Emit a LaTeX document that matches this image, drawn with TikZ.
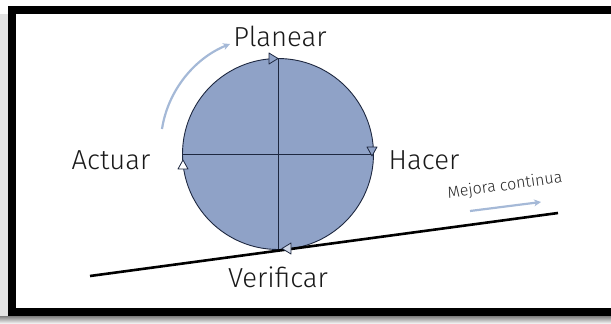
\documentclass[tikz,border=0pt]{standalone}
\usepackage{fontspec}
\setmainfont{Fira Sans Light}
\usetikzlibrary{arrows.meta}
\definecolor{cfill}{RGB}{143,162,199}
\definecolor{cline}{RGB}{30,40,64}
\definecolor{arrowc}{RGB}{165,185,215}
\definecolor{shade}{RGB}{175,175,175}
\tikzset{
  lbl/.style={font=\fontsize{27.5}{27.5}\selectfont, text=black!90, inner sep=0pt, anchor=base},
  tri/.style={draw=cline, line width=0.8pt, line join=round},
  hint/.style={draw=arrowc, line width=2.2pt, -{Stealth[length=7pt,width=7pt]}}
}
\begin{document}
\begin{tikzpicture}[x=1pt,y=-1pt]
\useasboundingbox (0,0) rectangle (611,324);
% shadow and frame
\fill[shade!35] (0,14) rectangle (8,324);
\fill[shade] (0,316) rectangle (611,324);
\fill[black] (8,6) rectangle (611,14);
\fill[black] (8,6) rectangle (16,316);
\fill[black] (8,308) rectangle (611,316);
% circle
\node[circle, draw=cline, fill=cfill, line width=0.9pt, minimum size=191pt, inner sep=0pt] (c) at (278,154) {};
\draw[cline, line width=0.9pt] (c.north) -- (c.south);
\draw[cline, line width=0.9pt] (c.west) -- (c.east);
% ground line
\coordinate (g1) at (90,276);
\coordinate (g2) at (558,213);
\draw[black, line width=2.6pt] (g1) -- (g2);
% triangles on circle
\draw[tri, fill=cfill] (269,53) -- (278,58.5) -- (269,64) -- cycle;
\draw[tri, fill=cfill] (367,147) -- (377,147) -- (372,156) -- cycle;
\draw[tri, fill=white!60!cfill] (291,243) -- (282,248.5) -- (291,254) -- cycle;
\draw[tri, fill=white] (178,169) -- (183,160) -- (188,169) -- cycle;
% labels
\node[lbl] (plan) at (280,46) {Planear};
\node[lbl] (act) at (111,169) {Actuar};
\node[lbl] (hac) at (424,169) {Hacer};
\node[lbl] (ver) at (278,287) {Verificar};
\node[font=\fontsize{16}{16}\selectfont, text=black!85, rotate=8, inner sep=0pt] (mej) at (505,186) {Mejora continua};
% hint arrows
\coordinate (a1) at (162,129);
\coordinate (a2) at (230,44);
\draw[hint] (a1) .. controls (168,90) and (195,58) .. (a2);
\coordinate (m1) at (470,211);
\coordinate (m2) at (541,202);
\draw[hint] (m1) -- (m2);
\end{tikzpicture}
\end{document}
